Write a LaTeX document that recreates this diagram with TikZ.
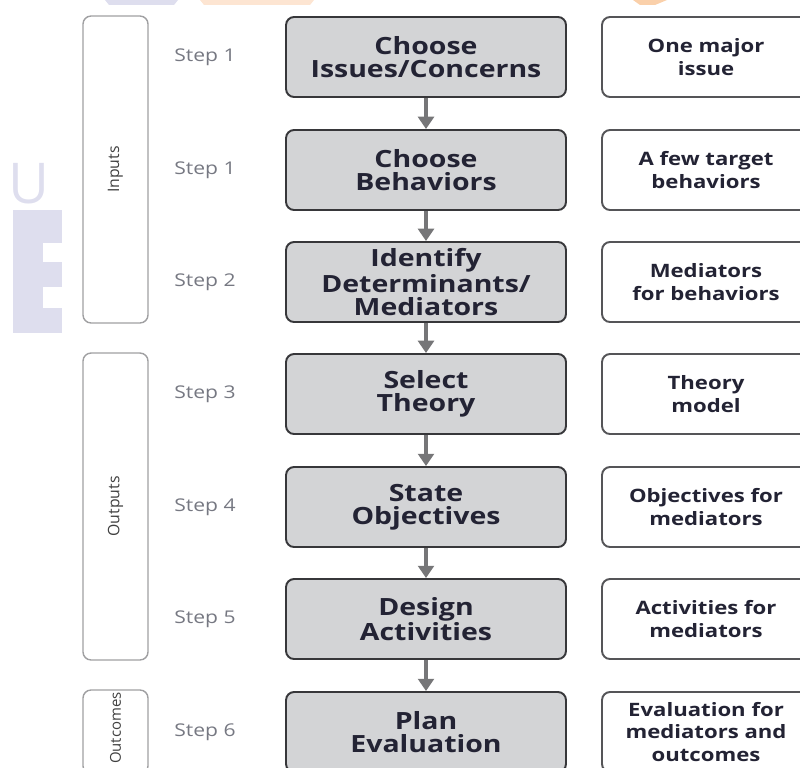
\documentclass[tikz,border=0pt]{standalone}
\usepackage{fontspec}
\setmainfont{Open Sans}
\newfontfamily\widefont[FakeStretch=1.2]{Open Sans}
\usetikzlibrary{arrows.meta}

\definecolor{boxgray}{RGB}{211,212,214}
\definecolor{edgedark}{RGB}{55,55,58}
\definecolor{edgeright}{RGB}{85,85,88}
\definecolor{phaseedge}{RGB}{160,160,162}
\definecolor{stepgray}{RGB}{118,120,130}
\definecolor{arrowgray}{RGB}{118,118,120}
\definecolor{textdark}{RGB}{35,35,52}
\definecolor{wmblue}{RGB}{222,222,238}
\definecolor{wmpeach}{RGB}{253,229,210}
\definecolor{wmorange}{RGB}{250,208,170}

\begin{document}
\begin{tikzpicture}[x=0.02cm,y=-0.02cm,
  stepbox/.style={draw=edgedark,line width=1.1pt,fill=boxgray,rounded corners=0.16cm,
    minimum width=5.6cm,minimum height=1.6cm,align=center,text=textdark,
    font=\widefont\bfseries\fontsize{13.5}{13}\selectfont},
  resultbox/.style={draw=edgeright,line width=1.1pt,fill=white,rounded corners=0.16cm,
    minimum width=4.16cm,minimum height=1.6cm,align=center,text=textdark,
    font=\widefont\bfseries\fontsize{10.5}{13}\selectfont},
  phasebox/.style={draw=phaseedge,line width=0.8pt,rounded corners=0.16cm,minimum width=1.3cm},
  phaselabel/.style={rotate=90,text=black!75,font=\fontsize{9}{9}\selectfont},
  steplabel/.style={text=stepgray,font=\widefont\fontsize{10}{10}\selectfont},
  flow/.style={draw=arrowgray,line width=2pt,-{Triangle[width=9pt,length=7pt]}}]
\useasboundingbox (0,0) rectangle (800,767);

\fill[wmblue] (105,0) -- (178,0) -- (174,5) -- (109,5) -- cycle;
\fill[wmpeach] (200,0) -- (314,0) -- (310,5) -- (204,5) -- cycle;
\fill[wmorange] (633,0) -- (667,0) -- (655,5) -- (640,5) -- cycle;
\node[text=wmblue,font=\fontsize{32}{32}\selectfont,inner sep=0pt] (wmu) at (29,184) {U};
\fill[wmblue] (13,210) rectangle (43,333);
\fill[wmblue] (43,210) rectangle (62,243);
\fill[wmblue] (43,262) rectangle (62,287);
\fill[wmblue] (43,308) rectangle (62,333);

\node[phasebox,minimum height=6.14cm] (inputs) at (115.5,169.5) {};
\node[phaselabel] (inputslbl) at (inputs.center) {Inputs};
\node[phasebox,minimum height=6.14cm] (outputs) at (115.5,506.5) {};
\node[phaselabel] (outputslbl) at (outputs.center) {Outputs};
\node[phasebox,minimum height=1.68cm] (outcomes) at (115.5,732) {};
\node[phaselabel,font=\fontsize{8.5}{8.5}\selectfont] (outcomeslbl) at (115.5,728) {Outcomes};

\node[steplabel] (st1) at (205,57) {Step 1};
\node[steplabel] (st1b) at (205,170) {Step 1};
\node[steplabel] (st2) at (205,282) {Step 2};
\node[steplabel] (st3) at (205,394) {Step 3};
\node[steplabel] (st4) at (205,507) {Step 4};
\node[steplabel] (st5) at (205,619) {Step 5};
\node[steplabel] (st6) at (205,732) {Step 6};

\node[stepbox] (issues) at (426,57) {Choose\\Issues/Concerns};
\node[stepbox] (behaviors) at (426,170) {Choose\\Behaviors};
\node[stepbox] (mediators) at (426,282) {Identify\\Determinants/\\Mediators};
\node[stepbox] (theory) at (426,394) {Select\\Theory};
\node[stepbox] (objectives) at (426,507) {State\\Objectives};
\node[stepbox] (activities) at (426,619) {Design\\Activities};
\node[stepbox] (evaluation) at (426,732) {Plan\\Evaluation};

\draw[flow] (issues) -- (behaviors);
\draw[flow] (behaviors) -- (mediators);
\draw[flow] (mediators) -- (theory);
\draw[flow] (theory) -- (objectives);
\draw[flow] (objectives) -- (activities);
\draw[flow] (activities) -- (evaluation);

\node[resultbox] (onemajor) at (706,57) {One major\\issue};
\node[resultbox] (fewtarget) at (706,170) {A few target\\behaviors};
\node[resultbox] (medfor) at (706,282) {Mediators\\for behaviors};
\node[resultbox] (model) at (706,394) {Theory\\model};
\node[resultbox] (objfor) at (706,507) {Objectives for\\mediators};
\node[resultbox] (actfor) at (706,619) {Activities for\\mediators};
\node[resultbox] (evalfor) at (706,732) {Evaluation for\\mediators and\\outcomes};
\end{tikzpicture}
\end{document}
